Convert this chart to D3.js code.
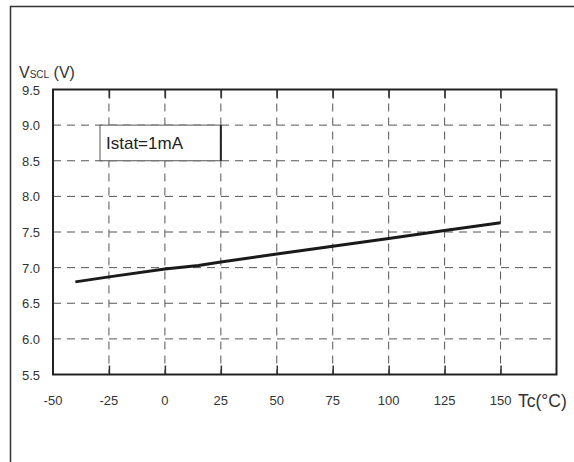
<!DOCTYPE html>
<html><head><meta charset="utf-8">
<script src="https://cdn.jsdelivr.net/npm/d3@7"></script>
<style>body{margin:0;background:#fff}svg{display:block;font-family:"Liberation Sans",Arial,sans-serif}</style>
</head><body>
<script>
const temps = [-40, -25, 0, 15, 25, 50, 75, 100, 125, 150];
const vscl = [6.80, 6.87, 6.98, 7.03, 7.08, 7.19, 7.30, 7.41, 7.52, 7.63];
const xTicks = [-50, -25, 0, 25, 50, 75, 100, 125, 150];
const yTicks = [5.5, 6.0, 6.5, 7.0, 7.5, 8.0, 8.5, 9.0, 9.5];
const legendText = "Istat=1mA";

const W = 574, H = 462;
const svg = d3.select("body").append("svg").attr("width", W).attr("height", H);
const x = d3.scaleLinear().domain([-50, 175]).range([53, 556.5]);
const y = d3.scaleLinear().domain([5.5, 9.5]).range([374.5, 89.5]);

// outer frame
svg.append("path").attr("d", `M10.5,462 V6.5 H574`).attr("fill", "none").attr("stroke", "#333").attr("stroke-width", 1.5);

// grid
const grid = svg.append("g").attr("stroke", "#555").attr("stroke-width", 1).attr("stroke-dasharray", "8,6");
xTicks.filter(d => d > -50).forEach(d => {
  grid.append("line").attr("x1", x(d)).attr("x2", x(d)).attr("y1", y(9.5)).attr("y2", y(5.5));
});
yTicks.filter(d => d > 5.5 && d < 9.5).forEach(d => {
  grid.append("line").attr("x1", x(-50)).attr("x2", x(175)).attr("y1", y(d)).attr("y2", y(d));
});

// legend box
const lx0 = x(-29), lx1 = x(25);
svg.append("rect").attr("x", lx0).attr("y", y(9.0)).attr("width", lx1 - lx0).attr("height", y(8.5) - y(9.0))
  .attr("fill", "#fff").attr("stroke", "#555").attr("stroke-width", 1);
svg.append("line").attr("x1", lx1).attr("x2", lx1).attr("y1", y(9.0)).attr("y2", y(8.5)).attr("stroke", "#222").attr("stroke-width", 2);
svg.append("text").attr("x", lx0 + 6).attr("y", (y(9.0) + y(8.5)) / 2 + 6).attr("font-size", 17).attr("fill", "#222").text(legendText);

// axes
const tickLen = 9;
const xAxisB = d3.axisBottom(x).tickValues(xTicks.filter(d => d > -50)).tickSize(-tickLen).tickFormat("");
const xAxisT = d3.axisTop(x).tickValues(xTicks.filter(d => d > -50)).tickSize(-tickLen).tickFormat("");
const gB = svg.append("g").attr("transform", `translate(0,${y(5.5)})`).call(xAxisB);
const gT = svg.append("g").attr("transform", `translate(0,${y(9.5)})`).call(xAxisT);
[gB, gT].forEach(g => { g.select(".domain").remove(); g.selectAll("line").attr("stroke", "#333").attr("stroke-width", 1.5); });

svg.append("rect").attr("x", x(-50)).attr("y", y(9.5)).attr("width", x(175) - x(-50)).attr("height", y(5.5) - y(9.5))
  .attr("fill", "none").attr("stroke", "#222").attr("stroke-width", 2);

// tick labels
svg.append("g").selectAll("text").data(xTicks).join("text")
  .attr("x", d => x(d)).attr("y", 405).attr("text-anchor", "middle").attr("font-size", 13).attr("fill", "#333").text(d => d);
svg.append("g").selectAll("text").data(yTicks).join("text")
  .attr("x", 40).attr("y", d => y(d) + 5).attr("text-anchor", "end").attr("font-size", 13).attr("fill", "#333").text(d => d.toFixed(1));

// axis titles
svg.append("text").attr("x", 518).attr("y", 407).attr("font-size", 17.5).attr("fill", "#333").text("Tc(°C)");
const yt = svg.append("text").attr("x", 19).attr("y", 78).attr("font-size", 16).attr("fill", "#333");
yt.append("tspan").text("V");
yt.append("tspan").attr("font-size", 10).text("SCL");
yt.append("tspan").text(" (V)");

// data line
const line = d3.line().x((d, i) => x(temps[i])).y(d => y(d));
svg.append("path").datum(vscl).attr("d", line).attr("fill", "none").attr("stroke", "#1a1a1a").attr("stroke-width", 3);
</script>
</body></html>
